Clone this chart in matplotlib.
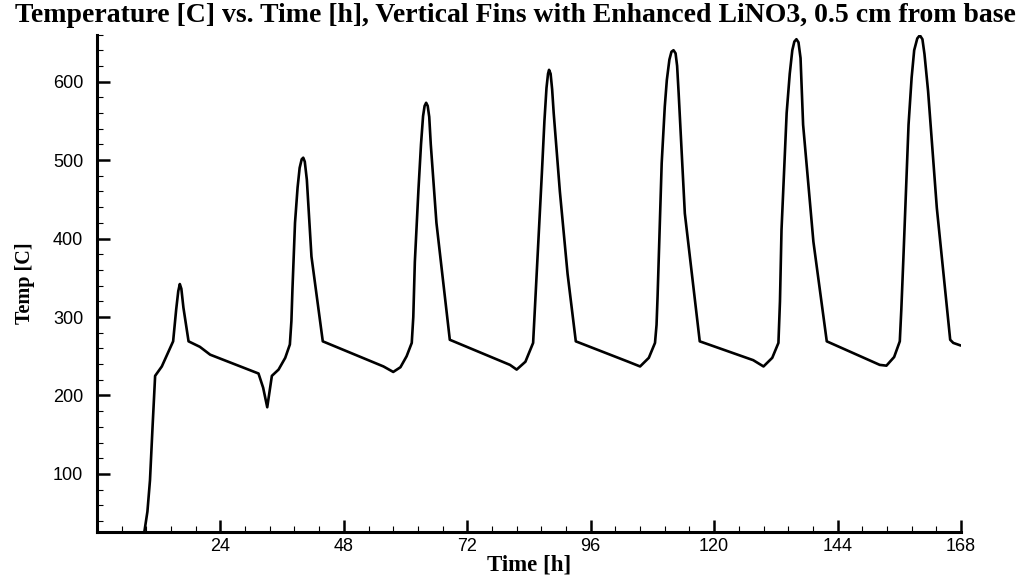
import matplotlib.pyplot as plt
from matplotlib.ticker import MultipleLocator

# time [h] and temperature [C]
time_h = [9.2, 9.8, 10.3, 10.8, 11.3, 12.6, 14.8, 15.4, 15.8, 16.1, 16.4, 16.8, 17.8, 20.0, 22.0,
          31.4, 32.3, 33.1, 34.0, 35.3, 36.6, 37.5, 37.8, 38.0, 38.5, 39.0, 39.4, 39.8, 40.1, 40.4,
          40.8, 41.7, 43.9, 55.7, 57.6, 59.0, 60.2, 61.2, 61.5, 61.8, 62.5, 63.0, 63.4, 63.7, 64.0,
          64.3, 64.6, 64.9, 66.0, 68.6, 80.3, 81.6, 83.3, 84.8, 85.1, 85.5, 86.5, 87.0, 87.4, 87.7, 87.9,
          88.2, 88.5, 88.8, 90.0, 91.5, 93.1, 103.3, 105.6, 107.3, 108.5, 108.8, 109.0, 109.8, 110.4,
          110.8, 111.3, 111.7, 112.1, 112.5, 112.8, 113.1, 114.3, 117.2, 127.6, 129.6, 131.3, 132.5,
          132.8, 133.1, 134.1, 134.7, 135.2, 135.6, 136.0, 136.4, 136.8, 137.3, 139.3, 141.9, 152.2,
          153.5, 155.0, 156.1, 156.4, 156.8, 157.8, 158.4, 158.9, 159.5, 160.0, 160.5, 160.9, 161.6,
          163.3, 165.9, 166.5, 167.8]
temp_c = [26, 52, 92, 160, 225, 237, 269, 310, 333, 342, 336, 312, 269, 262, 252,
          228, 210, 185, 225, 233, 248, 265, 295, 335, 420, 465, 490, 501, 503, 498,
          475, 377, 269, 237, 230, 236, 250, 267, 300, 370, 462, 520, 556, 569, 573,
          569, 555, 520, 420, 271, 239, 233, 243, 267, 305, 356, 483, 550, 592, 610, 615,
          610, 590, 560, 460, 355, 269, 243, 237, 248, 267, 290, 326, 496, 568,
          602, 628, 638, 640, 636, 620, 585, 432, 269, 245, 237, 248, 267,
          320, 411, 560, 610, 640, 651, 654, 650, 630, 545, 396, 269, 239,
          238, 249, 269, 310, 375, 545, 605, 640, 655, 659, 654, 635, 588,
          439, 271, 267, 264]

fig = plt.figure(figsize=(10.18, 5.81), dpi=100)
ax = fig.add_axes([0.0953, 0.0843, 0.8487, 0.8563])
ax.plot(time_h, temp_c, color="black", lw=1.9, solid_joinstyle="round")

ax.set_xlim(0, 168)
ax.set_ylim(26, 660)
ax.xaxis.set_minor_locator(MultipleLocator(4.8))
ax.yaxis.set_minor_locator(MultipleLocator(20))
ax.set_xticks([24, 48, 72, 96, 120, 144, 168])
ax.set_yticks([100, 200, 300, 400, 500, 600])

for s in ["top", "right"]:
    ax.spines[s].set_visible(False)
for s in ["left", "bottom"]:
    ax.spines[s].set_linewidth(2.2)

ax.tick_params(which="major", direction="in", length=9, width=1.8,
               labelsize=13, labelfontfamily="Liberation Sans")
ax.tick_params(which="minor", direction="in", length=4.5, width=0.8)
ax.tick_params(axis="x", which="major", pad=4)
ax.tick_params(axis="y", which="major", pad=10)

ax.set_xlabel("Time [h]", fontsize=16.5, fontweight="bold",
              family="Liberation Serif", labelpad=0)
ax.set_ylabel("Temp [C]", fontsize=14.5, fontweight="bold",
              family="Liberation Serif", labelpad=13)
fig.text(0.506, 0.973,
         "Temperature [C] vs. Time [h], Vertical Fins with Enhanced LiNO3, 0.5 cm from base",
         ha="center", va="center", fontsize=20, fontweight="bold",
         family="Liberation Serif")

fig.savefig("out.png", dpi=100)
